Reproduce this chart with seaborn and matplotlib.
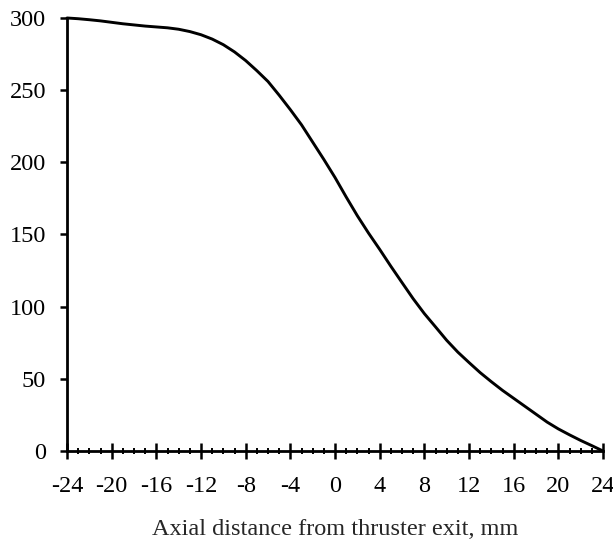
import numpy as np
import pandas as pd
import matplotlib
matplotlib.use("Agg")
import matplotlib.pyplot as plt
import seaborn as sns
from matplotlib.ticker import MultipleLocator

x_mm = [-24, -23, -22, -21, -20, -19, -18, -17, -16, -15, -14, -13, -12,
        -11, -10, -9, -8, -7, -6, -5, -4, -3, -2, -1, 0,
        1, 2, 3, 4, 5, 6, 7, 8, 9, 10, 11, 12,
        13, 14, 15, 16, 17, 18, 19, 20, 21, 22, 23, 24]
values = [300, 299.5, 298.8, 298, 297, 296, 295.2, 294.4, 293.8, 293.2, 292.2, 290.6, 288.4,
          285.4, 281.5, 276.5, 270.5, 263.5, 256, 246.5, 236.5, 226, 214, 202, 189.5,
          176, 163, 151, 139.7, 128, 116.7, 105.5, 95.2, 86, 76.7, 68.5, 61.3,
          54.3, 48, 42, 36.5, 31, 25.5, 20, 15.3, 11.2, 7.3, 3.7, 0]
x_ticks = [-24, -20, -16, -12, -8, -4, 0, 4, 8, 12, 16, 20, 24]
y_ticks = [0, 50, 100, 150, 200, 250, 300]
x_label = "Axial distance from thruster exit, mm"

df = pd.DataFrame({"x": x_mm, "y": values})

sns.set_style("ticks")
plt.rcParams["font.family"] = ["Liberation Serif", "DejaVu Serif"]

fig = plt.figure(figsize=(6.13, 5.42), dpi=100)
ax = fig.add_axes([0.1093, 0.1679, 0.8744, 0.7989])

sns.lineplot(data=df, x="x", y="y", ax=ax, color="black", linewidth=2.1,
             clip_on=False)

ax.set_xlim(-24, 24)
ax.set_ylim(0, 300)
ax.set_xticks(x_ticks)
ax.set_xticklabels([str(t) for t in x_ticks])
ax.set_yticks(y_ticks)
ax.xaxis.set_minor_locator(MultipleLocator(1))

ax.tick_params(axis="x", which="major", direction="inout", length=11.5,
               width=1.8, labelsize=17.5, pad=12, colors="black")
ax.tick_params(axis="x", which="minor", direction="inout", length=5,
               width=1.4, colors="black")
ax.tick_params(axis="y", which="major", direction="out", length=5,
               width=1.8, labelsize=17.5, pad=10, colors="black")

for side in ["top", "right"]:
    ax.spines[side].set_visible(False)
for side in ["left", "bottom"]:
    ax.spines[side].set_linewidth(2.0)
    ax.spines[side].set_color("black")

ax.set_xlabel(x_label, fontsize=17.5, labelpad=16)
ax.set_ylabel("")

fig.savefig("out.png", dpi=100)
